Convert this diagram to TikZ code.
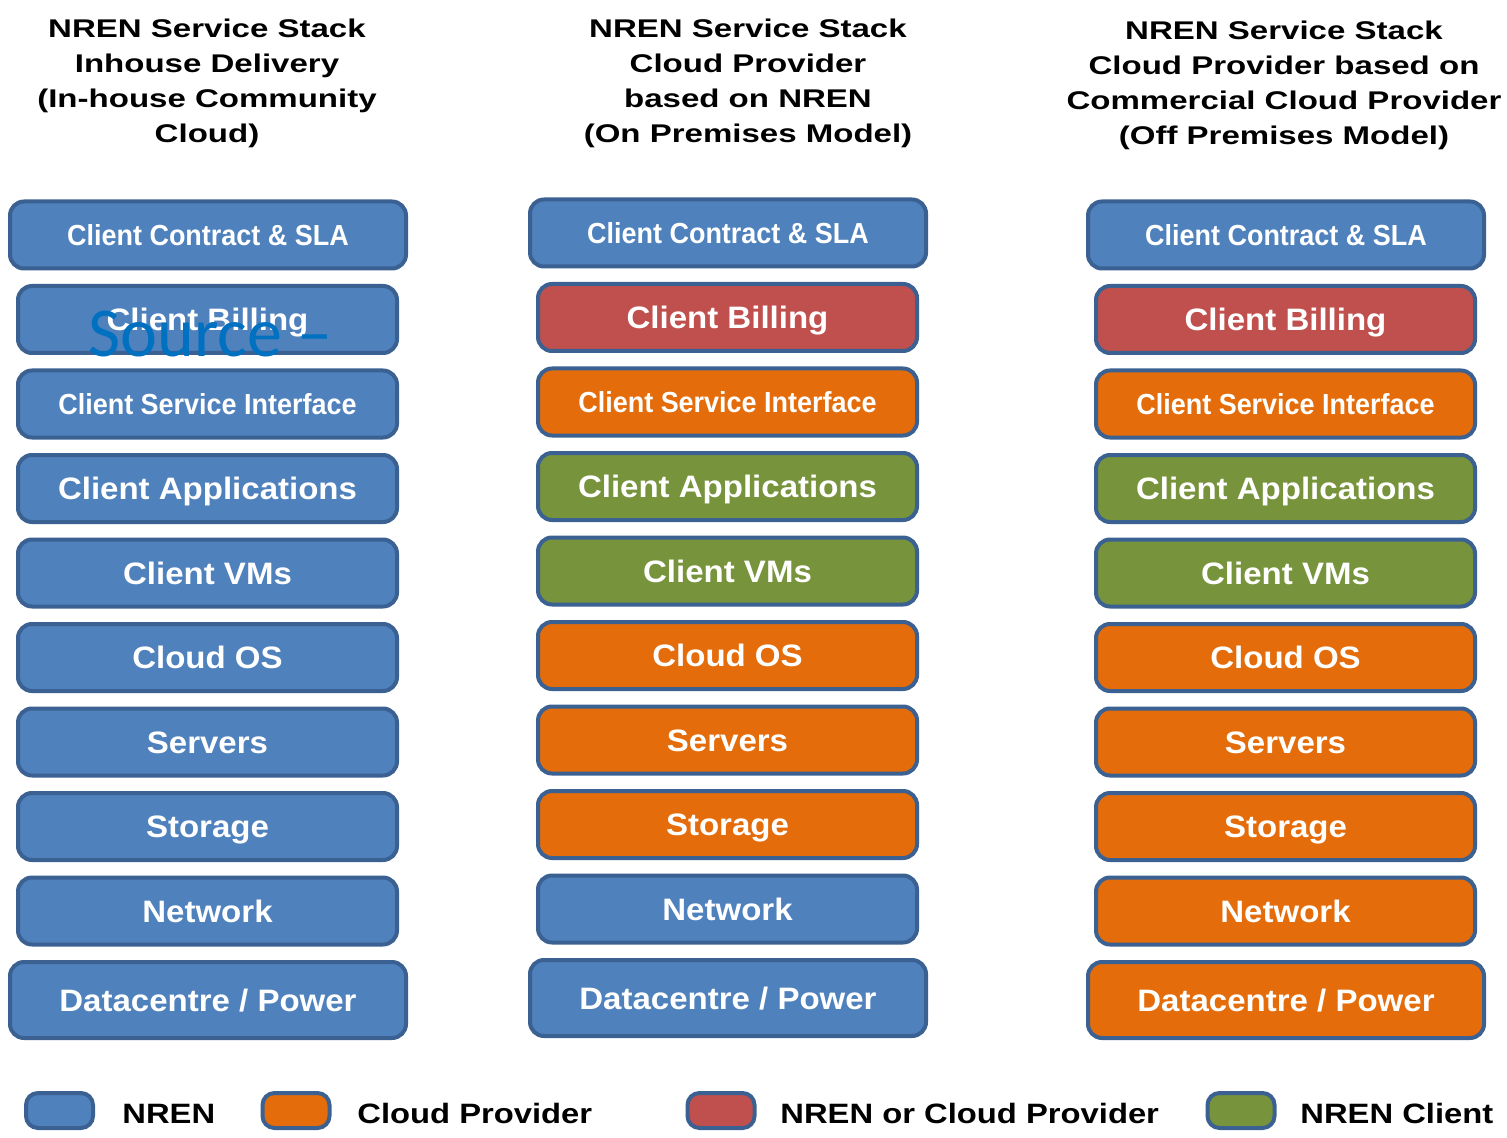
\documentclass[tikz,border=0pt]{standalone}
\usepackage{fontspec}
\setmainfont{Liberation Sans}
\newfontfamily\titlefont[FakeStretch=1.29]{Liberation Sans}
\newfontfamily\layerfont[FakeStretch=1.065]{Liberation Sans}
\newfontfamily\narrowfont[FakeStretch=0.93]{Liberation Sans}
\newfontfamily\legendfont[FakeStretch=1.17]{Liberation Sans}
\newfontfamily\notefont{Carlito}

\definecolor{nrenblue}{HTML}{4F81BD}
\definecolor{edgeblue}{HTML}{3B6192}
\definecolor{cporange}{HTML}{E46C0A}
\definecolor{eitherred}{HTML}{C0504D}
\definecolor{clientgreen}{HTML}{77933C}
\definecolor{noteblue}{HTML}{0070C0}

\tikzset{
  layer/.style={draw=edgeblue, line width=2pt, rounded corners=7pt, text=white,
    inner sep=0pt, minimum height=33.5pt, minimum width=189.5pt,
    font=\layerfont\fontsize{15.5}{18}\selectfont\bfseries,
    text height=11.1pt, text depth=0pt},
  outerlayer/.style={minimum width=198pt},
  plain/.style={},
  narrowtext/.style={font=\narrowfont\fontsize{14.5}{17}\selectfont\bfseries,
    text height=10.4pt},
  titleline/.style={anchor=base, inner sep=0pt,
    font=\titlefont\fontsize{12.8}{15}\selectfont\bfseries},
  legendkey/.style={draw=edgeblue, line width=2pt, rounded corners=6pt,
    minimum width=33.5pt, minimum height=17.5pt, inner sep=0pt},
  legendtext/.style={anchor=base west, inner sep=0pt,
    font=\legendfont\fontsize{14}{16}\selectfont\bfseries}
}

\begin{document}
\begin{tikzpicture}[x=0.5pt,y=-0.5pt]
\useasboundingbox (0,0) rectangle (1507,1138);
\fill[white] (0,0) rectangle (1507,1138);

% column headings
\foreach \ln [count=\k] in {NREN Service Stack, Inhouse Delivery, {(In-house Community}, {Cloud)}}
  \node[titleline] (ta\k) at (207,{38+35*(\k-1)}) {\ln};
\foreach \ln [count=\k] in {NREN Service Stack, Cloud Provider, based on NREN, {(On Premises Model)}}
  \node[titleline] (tb\k) at (748,{38+35*(\k-1)}) {\ln};
\foreach \ln [count=\k] in {NREN Service Stack, Cloud Provider based on, Commercial Cloud Provider, {(Off Premises Model)}}
  \node[titleline] (tc\k) at (1284,{40+35*(\k-1)}) {\ln};

% column 1: in-house delivery
\node[layer, outerlayer, narrowtext, fill=nrenblue] (atop) at (208,235) {Client Contract \& SLA};
\foreach \txt/\clr/\sty [count=\i] in {
    Client Billing/nrenblue/plain,
    Client Service Interface/nrenblue/narrowtext,
    Client Applications/nrenblue/plain,
    Client VMs/nrenblue/plain,
    Cloud OS/nrenblue/plain,
    Servers/nrenblue/plain,
    Storage/nrenblue/plain,
    Network/nrenblue/plain}
  \node[layer, \sty, fill=\clr] (a\i) at (207.5,{319.5+84.5*(\i-1)}) {\txt};
\node[layer, outerlayer, fill=nrenblue, minimum height=38pt] (adc) at (208,1000) {Datacentre / Power};

% column 2: on premises model
\node[layer, outerlayer, narrowtext, fill=nrenblue] (btop) at (728,233) {Client Contract \& SLA};
\foreach \txt/\clr/\sty [count=\i] in {
    Client Billing/eitherred/plain,
    Client Service Interface/cporange/narrowtext,
    Client Applications/clientgreen/plain,
    Client VMs/clientgreen/plain,
    Cloud OS/cporange/plain,
    Servers/cporange/plain,
    Storage/cporange/plain,
    Network/nrenblue/plain}
  \node[layer, \sty, fill=\clr] (b\i) at (727.5,{317.5+84.5*(\i-1)}) {\txt};
\node[layer, outerlayer, fill=nrenblue, minimum height=38pt] (bdc) at (728,998) {Datacentre / Power};

% column 3: off premises model
\node[layer, outerlayer, narrowtext, fill=nrenblue] (ctop) at (1286,235) {Client Contract \& SLA};
\foreach \txt/\clr/\sty [count=\i] in {
    Client Billing/eitherred/plain,
    Client Service Interface/cporange/narrowtext,
    Client Applications/clientgreen/plain,
    Client VMs/clientgreen/plain,
    Cloud OS/cporange/plain,
    Servers/cporange/plain,
    Storage/cporange/plain,
    Network/cporange/plain}
  \node[layer, \sty, fill=\clr] (c\i) at (1285.5,{319.5+84.5*(\i-1)}) {\txt};
\node[layer, outerlayer, fill=cporange, minimum height=38pt] (cdc) at (1286,1000) {Datacentre / Power};

% legend
\node[legendkey, fill=nrenblue] (knren) at (59.5,1110.5) {};
\node[legendtext] (lnren) at (122,1123) {NREN};
\node[legendkey, fill=cporange] (kcp) at (296,1110.5) {};
\node[legendtext] (lcp) at (357,1123) {Cloud Provider};
\node[legendkey, fill=eitherred] (keither) at (721,1110.5) {};
\node[legendtext] (leither) at (780,1123) {NREN or Cloud Provider};
\node[legendkey, fill=clientgreen] (kclient) at (1241,1110.5) {};
\node[legendtext] (lclient) at (1300,1123) {NREN Client};

% overlaid note
\node[anchor=base west, inner sep=0pt, text=noteblue,
  font=\notefont\fontsize{35}{40}\selectfont] (srcnote) at (88,357) {Source –};
\end{tikzpicture}
\end{document}
